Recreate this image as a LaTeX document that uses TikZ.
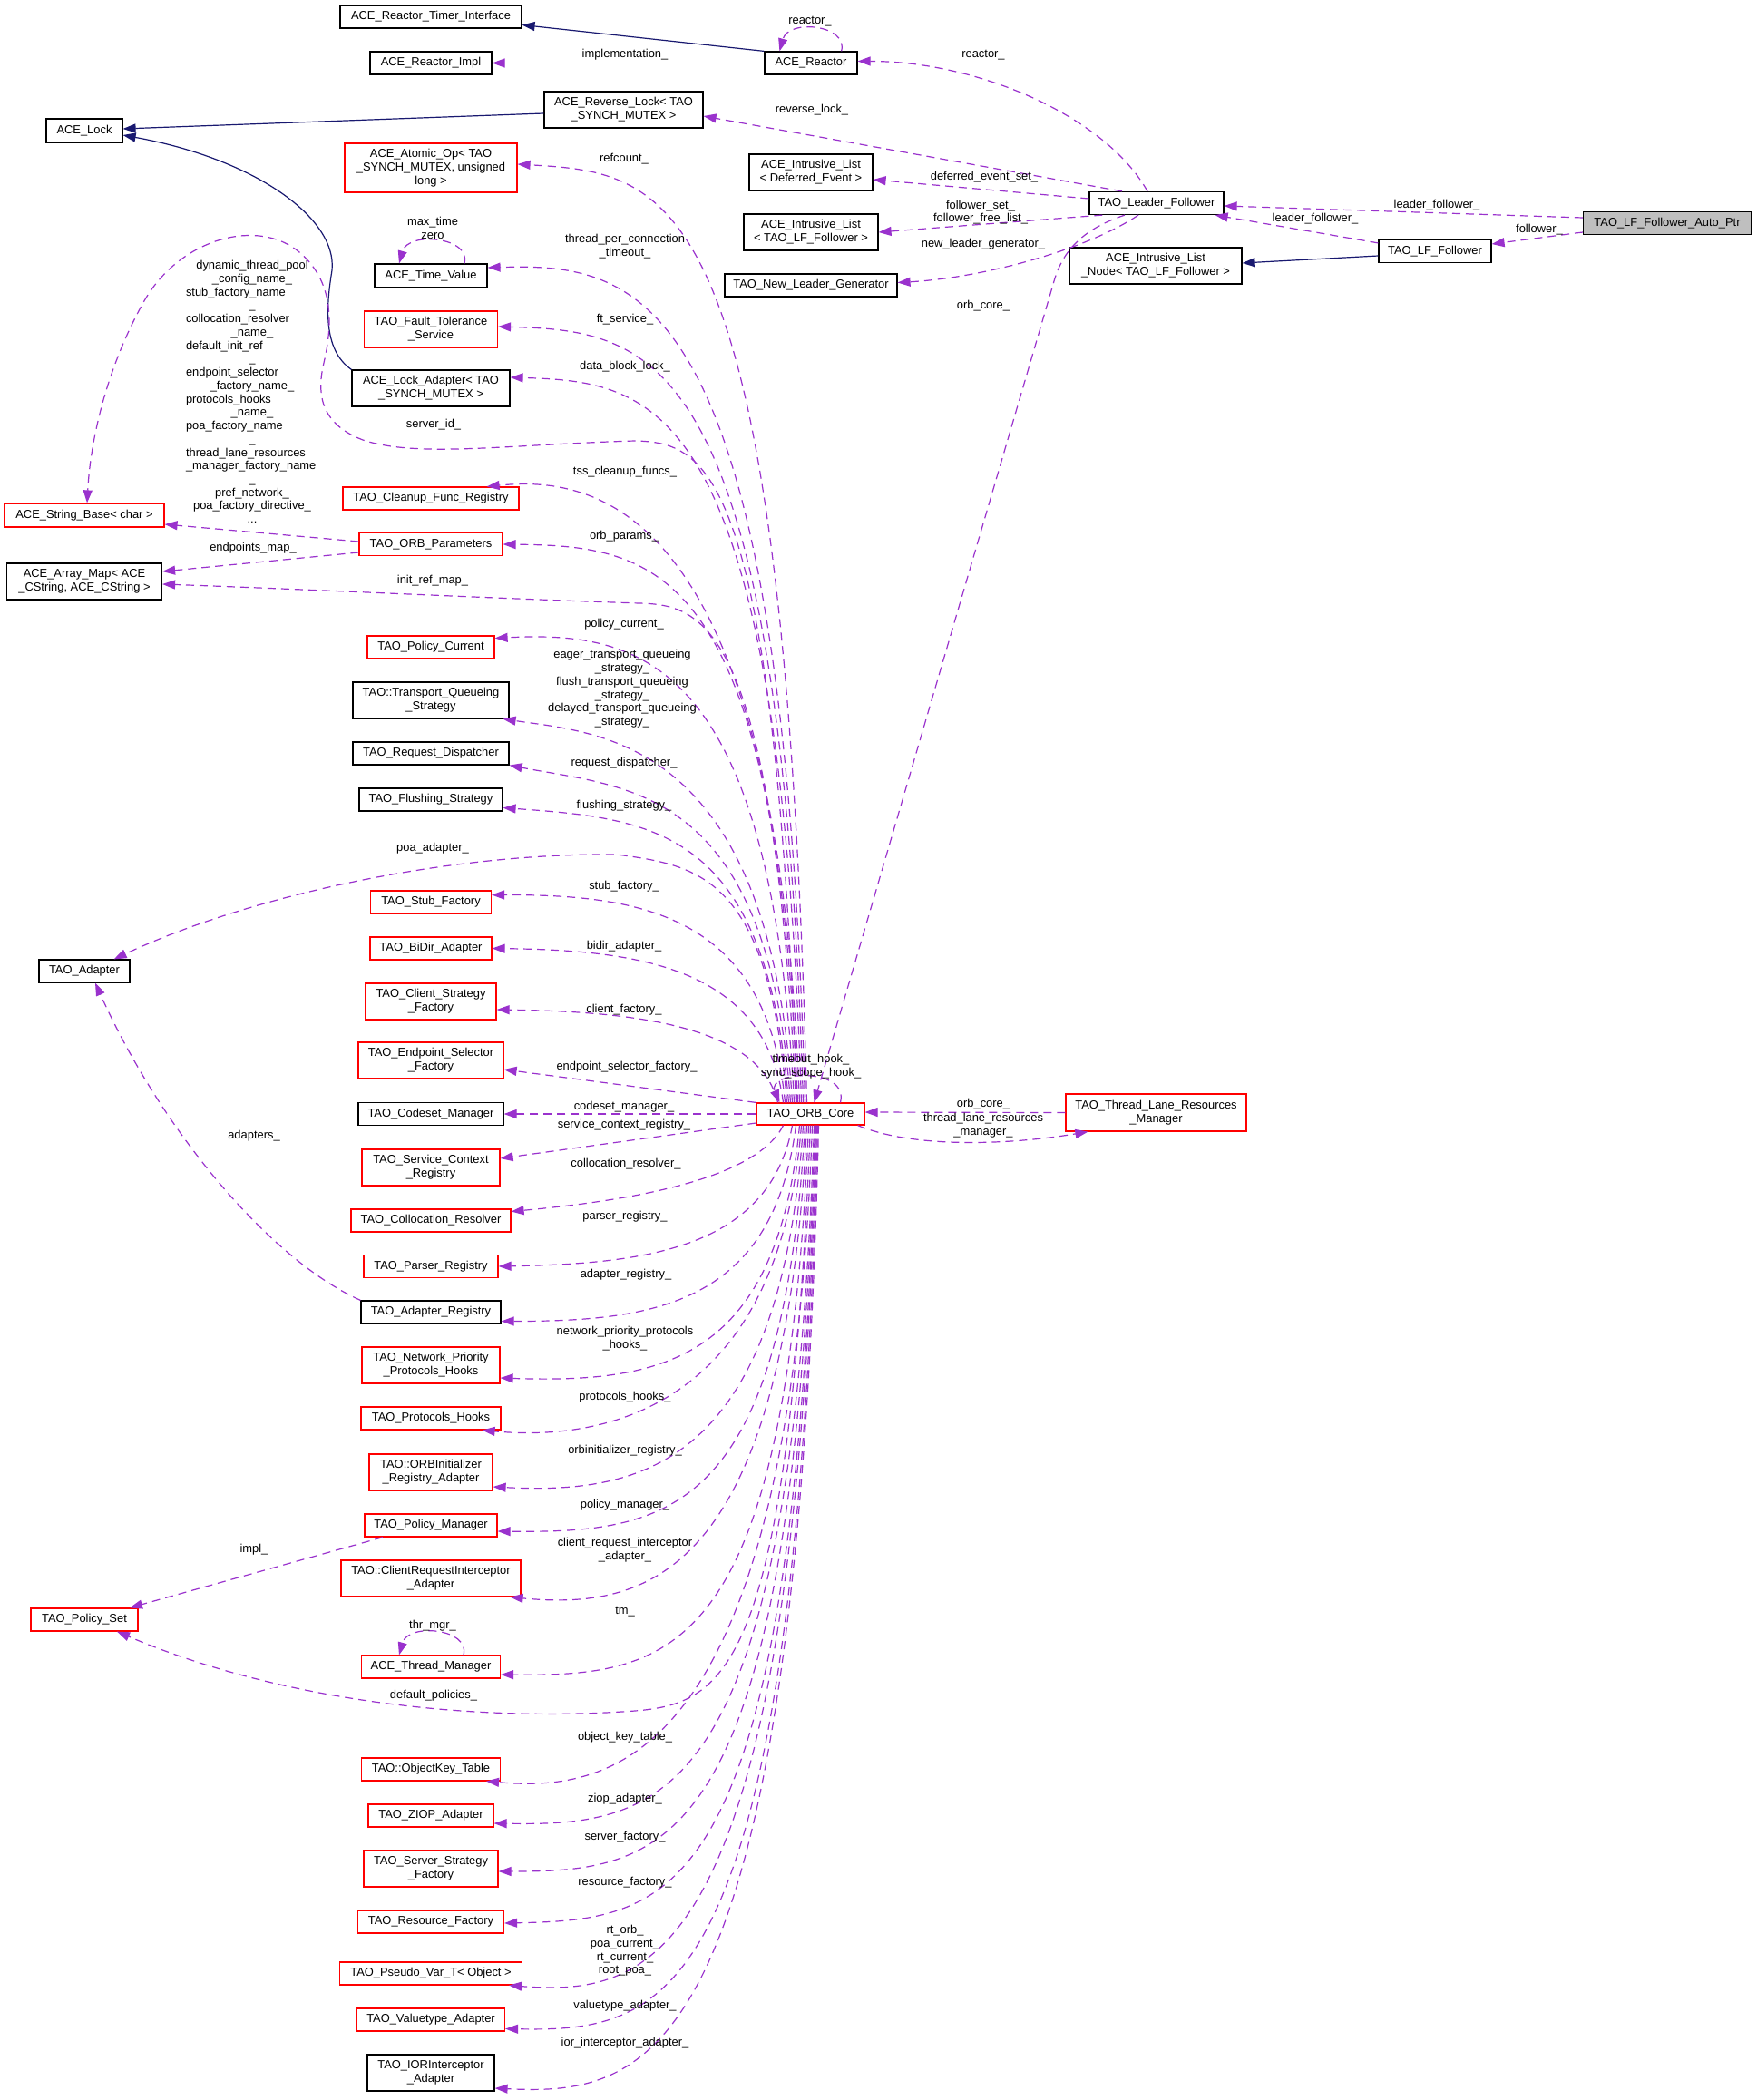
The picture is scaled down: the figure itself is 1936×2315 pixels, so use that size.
\documentclass[tikz,border=0pt]{standalone}
\usepackage{fontspec}
\setmainfont{Liberation Sans}
\usetikzlibrary{arrows.meta}
\definecolor{edgep}{HTML}{9A32CD}
\definecolor{inh}{HTML}{191970}
\definecolor{boxred}{HTML}{FF0000}
\definecolor{boxgray}{HTML}{BFBFBF}
\newcommand\fs{\fontsize{12.9}{15}\selectfont}
\newcommand\fsl{\fontsize{12.9}{14.74}\selectfont}
\begin{document}
\begin{tikzpicture}[x=1pt,y=-1pt,
  every node/.style={font=\fs},
  cls/.style={draw=black,line width=1.2pt,fill=white,inner sep=0pt,align=center},
  rcls/.style={cls,draw=boxred},
  sz/.style 2 args={minimum width=#1pt,minimum height=#2pt},
  lbl/.style={inner sep=0pt,align=center,font=\fsl},
  usedge/.style={draw=edgep,line width=1.2pt,dash pattern=on 9pt off 6pt,-{Triangle[length=14pt,width=10pt]}},
  inhedge/.style={draw=inh,line width=1.2pt,-{Triangle[length=14pt,width=10pt]}}]
\fill[white] (0,0) rectangle (1936,2315);
\useasboundingbox (0,0) rectangle (1936,2315);

% ---------- nodes ----------
\node[cls,sz={200}{25}] (timer) at (475,18.5) {ACE\_Reactor\_Timer\_Interface};
\node[cls,sz={134}{25}] (impl) at (475,69.5) {ACE\_Reactor\_Impl};
\node[cls,sz={102}{25}] (reactor) at (894,69.5) {ACE\_Reactor};
\node[cls,sz={84}{26}] (acelock) at (93,144) {ACE\_Lock};
\node[cls,sz={175}{40}] (revlock) at (687.5,121) {ACE\_Reverse\_Lock< TAO\\\_SYNCH\_MUTEX >};
\node[rcls,sz={190}{54}] (atomic) at (475,185) {ACE\_Atomic\_Op< TAO\\\_SYNCH\_MUTEX, unsigned\\long >};
\node[cls,sz={136}{40}] (ild) at (894,190) {ACE\_Intrusive\_List\\< Deferred\_Event >};
\node[cls,sz={148}{40}] (ilf) at (894,256) {ACE\_Intrusive\_List\\< TAO\_LF\_Follower >};
\node[cls,sz={190}{25}] (nlg) at (894,314.5) {TAO\_New\_Leader\_Generator};
\node[cls,sz={148}{25}] (lf) at (1275,224) {TAO\_Leader\_Follower};
\node[cls,sz={190}{40}] (iln) at (1274,293) {ACE\_Intrusive\_List\\\_Node< TAO\_LF\_Follower >};
\node[cls,sz={124}{25}] (lff) at (1582,277) {TAO\_LF\_Follower};
\node[cls,fill=boxgray,sz={185}{25}] (ap) at (1838,246) {TAO\_LF\_Follower\_Auto\_Ptr};
\node[cls,sz={124}{26}] (tv) at (475,304) {ACE\_Time\_Value};
\node[rcls,sz={147}{40}] (ft) at (475,363) {TAO\_Fault\_Tolerance\\\_Service};
\node[cls,sz={174}{40}] (lockad) at (475,428) {ACE\_Lock\_Adapter< TAO\\\_SYNCH\_MUTEX >};
\node[rcls,sz={194}{25}] (cleanup) at (475,549.5) {TAO\_Cleanup\_Func\_Registry};
\node[rcls,sz={176}{26}] (sb) at (93,568) {ACE\_String\_Base< char >};
\node[rcls,sz={158}{25}] (orbp) at (475,600) {TAO\_ORB\_Parameters};
\node[cls,sz={171}{40}] (amap) at (93,641) {ACE\_Array\_Map< ACE\\\_CString, ACE\_CString >};
\node[rcls,sz={140}{25}] (pc) at (475,713.5) {TAO\_Policy\_Current};
\node[cls,sz={172}{40}] (tq) at (475,772) {TAO::Transport\_Queueing\\\_Strategy};
\node[cls,sz={172}{25}] (rd) at (475,830.5) {TAO\_Request\_Dispatcher};
\node[cls,sz={158}{25}] (fs) at (475,881.5) {TAO\_Flushing\_Strategy};
\node[cls,sz={100}{25}] (adapter) at (93,1070.5) {TAO\_Adapter};
\node[rcls,sz={133}{25}] (stub) at (475,994.5) {TAO\_Stub\_Factory};
\node[rcls,sz={134}{25}] (bidir) at (475,1045.5) {TAO\_BiDir\_Adapter};
\node[rcls,sz={144}{40}] (csf) at (475,1104) {TAO\_Client\_Strategy\\\_Factory};
\node[rcls,sz={160}{40}] (esf) at (475,1169) {TAO\_Endpoint\_Selector\\\_Factory};
\node[cls,sz={160}{25}] (codeset) at (475,1228) {TAO\_Codeset\_Manager};
\node[rcls,sz={119}{24}] (core) at (893.5,1228) {TAO\_ORB\_Core};
\node[rcls,sz={199}{41}] (tlrm) at (1274.5,1226.5) {TAO\_Thread\_Lane\_Resources\\\_Manager};
\node[rcls,sz={152}{40}] (scr) at (475,1287) {TAO\_Service\_Context\\\_Registry};
\node[rcls,sz={176}{25}] (coll) at (475,1345.5) {TAO\_Collocation\_Resolver};
\node[rcls,sz={148}{25}] (parser) at (475,1396) {TAO\_Parser\_Registry};
\node[cls,sz={154}{25}] (areg) at (475,1446.5) {TAO\_Adapter\_Registry};
\node[rcls,sz={152}{40}] (npph) at (475,1505) {TAO\_Network\_Priority\\\_Protocols\_Hooks};
\node[rcls,sz={154}{25}] (ph) at (475,1563.5) {TAO\_Protocols\_Hooks};
\node[rcls,sz={136}{40}] (orbi) at (475,1623) {TAO::ORBInitializer\\\_Registry\_Adapter};
\node[rcls,sz={146}{25}] (pm) at (475,1681.5) {TAO\_Policy\_Manager};
\node[rcls,sz={198}{40}] (cria) at (475,1740) {TAO::ClientRequestInterceptor\\\_Adapter};
\node[rcls,sz={118}{25}] (ps) at (93,1785.5) {TAO\_Policy\_Set};
\node[rcls,sz={153}{25}] (tm) at (475,1837.5) {ACE\_Thread\_Manager};
\node[rcls,sz={153}{25}] (okt) at (475,1950.5) {TAO::ObjectKey\_Table};
\node[rcls,sz={138}{25}] (ziop) at (475,2001.5) {TAO\_ZIOP\_Adapter};
\node[rcls,sz={148}{40}] (ssf) at (475,2060) {TAO\_Server\_Strategy\\\_Factory};
\node[rcls,sz={161}{25}] (rf) at (475,2118.5) {TAO\_Resource\_Factory};
\node[rcls,sz={201}{25}] (pv) at (475,2175.5) {TAO\_Pseudo\_Var\_T< Object >};
\node[rcls,sz={163}{25}] (vt) at (475,2226.5) {TAO\_Valuetype\_Adapter};
\node[cls,sz={140}{40}] (ior) at (475,2285) {TAO\_IORInterceptor\\\_Adapter};

% ---------- inheritance ----------
\draw[inhedge] (reactor.north west) -- ([yshift=-9pt]timer.east);
\draw[inhedge] ([yshift=-4pt]revlock.west) -- ([yshift=2pt]acelock.east);
\draw[inhedge] (lockad.north west) .. controls (355,385) and (360,335) .. (366,298) .. controls (372,240) and (280,175) .. ([yshift=-5pt]acelock.east);
\draw[inhedge] ([yshift=-5pt]lff.west) -- ([yshift=3pt]iln.east);

% ---------- top right area ----------
\draw[usedge] (reactor.west) -- (impl.east);
\draw[usedge] ([xshift=-18pt]reactor.north east) .. controls +(8,-29) and +(10,-36) .. ([xshift=17pt]reactor.north west);
\draw[usedge] ([xshift=-10pt]lf.north) .. controls +(-45,-81) and +(135,0) .. ([yshift=2pt]reactor.east);
\draw[usedge] ([xshift=-38pt]lf.north) -- ([yshift=-7pt]revlock.east);
\draw[usedge] ([yshift=5pt]lf.west) -- ([yshift=-8pt]ild.east);
\draw[usedge] ([xshift=15pt]lf.south west) -- (ilf.east);
\draw[usedge] ([xshift=-20pt]lf.south) .. controls +(-60,40) and +(90,-5) .. ([yshift=3pt]nlg.east);
\draw[usedge] ([xshift=-35pt]lf.south) .. controls +(-45,15) and +(10,-35) .. (1162,310) -- ([xshift=4pt]core.north);
\draw[usedge] ([yshift=6pt]ap.west) -- ([yshift=-3pt]lf.east);
\draw[usedge] ([yshift=-10pt]ap.west) -- ([yshift=8pt]lff.east);
\draw[usedge] ([yshift=-4pt]lff.north west) -- ([xshift=-10pt]lf.south east);

% ---------- thread lane ----------
\draw[usedge] (tlrm.west) -- ([yshift=2pt]core.east);
\draw[usedge] ([xshift=-8pt]core.south east) .. controls +(60,25) and +(-90,15) .. ([xshift=25pt]tlrm.south west);

% ---------- self loops ----------
\draw[usedge] ([xshift=37pt]tv.north) .. controls +(8,-29) and +(10,-36) .. ([xshift=-35pt]tv.north);
\draw[usedge] ([xshift=36pt]tm.north) .. controls +(8,-29) and +(10,-36) .. ([xshift=-35pt]tm.north);
\draw[usedge] ([xshift=33pt]core.north) .. controls +(10,-40) and +(-15,-35) .. ([xshift=-34pt]core.north);

% ---------- ORB_Parameters ----------
\draw[usedge] ([yshift=3pt]orbp.west) -- ([yshift=-10pt]sb.east);
\draw[usedge] ([yshift=-9pt]orbp.west) -- ([yshift=11pt]amap.east);

% ---------- core upward edges ----------
\draw[usedge] ([xshift=-4pt]core.north) .. controls +(-25,-1015) and +(170,10) .. ([yshift=4pt]atomic.east);
\draw[usedge] ([xshift=-6pt]core.north) .. controls +(-25,-900) and +(170,-5) .. ([yshift=9pt]tv.east);
\draw[usedge] ([xshift=-8pt]core.north) .. controls +(-25,-835) and +(170,5) .. ([yshift=3pt]ft.east);
\draw[usedge] ([xshift=-10pt]core.north) .. controls +(-25,-780) and +(160,5) .. ([yshift=12pt]lockad.east);
\draw[usedge] ([xshift=-12pt]core.north) .. controls +(-25,-660) and +(120,-12) .. ([xshift=-36pt]cleanup.north east);
\draw[usedge] ([xshift=-14pt]core.north) .. controls +(-25,-595) and +(170,2) .. (orbp.east);
\draw[usedge] ([xshift=-15pt]core.north) .. controls +(-25,-700) and +(80,2) .. (700,486)
   .. controls (560,490) and (460,505) .. (400,485)
   .. controls (350,466) and (350,430) .. (357,400)
   .. controls (370,345) and (362,305) .. (330,278)
   .. controls (285,240) and (200,262) .. (160,330)
   .. controls (120,400) and (100,480) .. ([xshift=3pt]sb.north);
\draw[usedge] ([xshift=-16pt]core.north) .. controls +(-25,-530) and +(70,2) .. (705,665) .. controls (550,660) and (350,650) .. ([yshift=-3pt]amap.east);
\draw[usedge] ([xshift=-18pt]core.north) .. controls +(-25,-490) and +(160,-8) .. ([yshift=10pt]pc.east);
\draw[usedge] ([xshift=-20pt]core.north) .. controls +(-25,-400) and +(110,16) .. ([xshift=-7pt]tq.south east);
\draw[usedge] ([xshift=-22pt]core.north) .. controls +(-25,-350) and +(130,25) .. (rd.south east);
\draw[usedge] ([xshift=-24pt]core.north) .. controls +(-25,-300) and +(170,12) .. ([yshift=-9pt]fs.east);
\draw[usedge] ([xshift=-26pt]core.north) .. controls +(-20,-250) and +(90,12) .. (680,942) .. controls (500,940) and (280,985) .. ([xshift=-18pt]adapter.north east);
\draw[usedge] ([xshift=-28pt]core.north) .. controls +(-20,-210) and +(160,0) .. ([yshift=8pt]stub.east);
\draw[usedge] ([xshift=-30pt]core.north) .. controls +(-20,-150) and +(160,2) .. (bidir.east);
\draw[usedge] ([xshift=-36pt]core.north) .. controls +(-20,-85) and +(150,2) .. ([yshift=-9pt]csf.east);
\draw[usedge] (core.north west) -- ([yshift=-10pt]esf.east);
\draw[usedge] (core.west) -- (codeset.east);
\draw[usedge] ([yshift=-10pt]core.west) -- ([yshift=10pt]scr.east);

% ---------- core downward edges ----------
\draw[usedge] ([xshift=-30pt]core.south) .. controls +(-30,60) and +(130,-12) .. ([yshift=10pt]coll.east);
\draw[usedge] ([xshift=-20pt]core.south) .. controls +(-25,137) and +(160,-3) .. (parser.east);
\draw[usedge] ([xshift=-16pt]core.south) .. controls +(-25,197) and +(170,0) .. ([yshift=-10pt]areg.east);
\draw[usedge] ([xshift=-12pt]core.south) .. controls +(-25,259) and +(180,6) .. ([yshift=-14pt]npph.east);
\draw[usedge] ([xshift=-10pt]core.south) .. controls +(-25,316) and +(130,12) .. ([xshift=-21pt]ph.south east);
\draw[usedge] ([xshift=-8pt]core.south) .. controls +(-25,379) and +(160,8) .. ([yshift=-16pt]orbi.east);
\draw[usedge] ([xshift=-6pt]core.south) .. controls +(-25,428) and +(190,2) .. ([yshift=-6.5pt]pm.east);
\draw[usedge] ([xshift=-4pt]core.south) .. controls +(-25,500) and +(150,14) .. ([xshift=-12pt]cria.south east);
\draw[usedge] ([xshift=-2pt]core.south) .. controls +(-25,586) and +(190,2) .. ([yshift=-8.5pt]tm.east);
\draw[usedge] (core.south) .. controls +(-25,600) and +(100,-8) .. (700,1886) .. controls (540,1898) and (320,1880) .. ([xshift=36pt]ps.south);
\draw[usedge] ([xshift=2pt]core.south) .. controls +(-25,703) and +(140,12) .. ([xshift=-16pt]okt.south east);
\draw[usedge] ([xshift=4pt]core.south) .. controls +(-25,750) and +(190,3) .. ([yshift=-8.5pt]ziop.east);
\draw[usedge] ([xshift=5pt]core.south) .. controls +(-25,803) and +(190,0) .. ([yshift=-3pt]ssf.east);
\draw[usedge] ([xshift=6pt]core.south) .. controls +(-25,860) and +(190,-4) .. ([yshift=-1.5pt]rf.east);
\draw[usedge] ([xshift=7pt]core.south) .. controls +(-25,928) and +(160,12) .. ([xshift=-15pt]pv.south east);
\draw[usedge] ([xshift=8pt]core.south) .. controls +(-25,977) and +(180,3) .. ([yshift=-10pt]vt.east);
\draw[usedge] ([xshift=9pt]core.south) .. controls +(-25,1042) and +(170,8) .. ([yshift=-17pt]ior.east);

% ---------- other left edges ----------
\draw[usedge] (areg.north west) .. controls (300,1390) and (180,1250) .. ([xshift=12pt]adapter.south);
\draw[usedge] ([xshift=-53pt]pm.south) -- ([xshift=50pt]ps.north);

% ---------- labels ----------
\node[lbl] (L1) at (689,60) {implementation\_};
\node[lbl] (L2) at (893,24) {reactor\_};
\node[lbl] (L3) at (1084,61) {reactor\_};
\node[lbl] (L4) at (895,121) {reverse\_lock\_};
\node[lbl] (L5) at (1085,195) {deferred\_event\_set\_};
\node[lbl] (L6) at (1081,234) {follower\_set\_\\follower\_free\_list\_};
\node[lbl] (L7) at (1084,269) {new\_leader\_generator\_};
\node[lbl] (L8) at (1084,337) {orb\_core\_};
\node[lbl] (L9) at (1584,226) {leader\_follower\_};
\node[lbl] (L10) at (1450,241) {leader\_follower\_};
\node[lbl] (L11) at (1697,253) {follower\_};
\node[lbl] (L12) at (688,175) {refcount\_};
\node[lbl] (L13) at (477,251.5) {max\_time\\zero};
\node[lbl] (L14) at (689,271.5) {thread\_per\_connection\\\_timeout\_};
\node[lbl] (L15) at (689,352) {ft\_service\_};
\node[lbl] (L16) at (689,404) {data\_block\_lock\_};
\node[lbl] (L17) at (478,468) {server\_id\_};
\node[lbl] (L18) at (689,520) {tss\_cleanup\_funcs\_};
\node[lbl] (L19) at (278,432) {\makebox[146pt][c]{dynamic\_thread\_pool}\\
\_config\_name\_\\
\makebox[146pt][l]{stub\_factory\_name}\\
\_\\
\makebox[146pt][l]{collocation\_resolver}\\
\_name\_\\
\makebox[146pt][l]{default\_init\_ref}\\
\_\\
\makebox[146pt][l]{endpoint\_selector}\\
\_factory\_name\_\\
\makebox[146pt][l]{protocols\_hooks}\\
\_name\_\\
\makebox[146pt][l]{poa\_factory\_name}\\
\_\\
\makebox[146pt][l]{thread\_lane\_resources}\\
\makebox[146pt][l]{\_manager\_factory\_name}\\
\_\\
pref\_network\_\\
poa\_factory\_directive\_\\
...};
\node[lbl] (L20) at (688,591) {orb\_params\_};
\node[lbl] (L21) at (279,604) {endpoints\_map\_};
\node[lbl] (L22) at (477,640) {init\_ref\_map\_};
\node[lbl] (L23) at (688,688) {policy\_current\_};
\node[lbl] (L24) at (686,759.5) {eager\_transport\_queueing\\\_strategy\_\\flush\_transport\_queueing\\\_strategy\_\\delayed\_transport\_queueing\\\_strategy\_};
\node[lbl] (L25) at (688,841) {request\_dispatcher\_};
\node[lbl] (L26) at (688,888) {flushing\_strategy\_};
\node[lbl] (L27) at (477,935) {poa\_adapter\_};
\node[lbl] (L28) at (688,977) {stub\_factory\_};
\node[lbl] (L29) at (688,1043) {bidir\_adapter\_};
\node[lbl] (L30) at (688,1113) {client\_factory\_};
\node[lbl] (L31) at (691,1176) {endpoint\_selector\_factory\_};
\node[lbl] (L32) at (894,1175.5) {timeout\_hook\_\\sync\_scope\_hook\_};
\node[lbl] (L33) at (688,1220) {codeset\_manager\_};
\node[lbl] (L34) at (688,1240) {service\_context\_registry\_};
\node[lbl] (L35) at (1084,1217) {orb\_core\_};
\node[lbl] (L36) at (1084,1240.5) {thread\_lane\_resources\\\_manager\_};
\node[lbl] (L37) at (690,1283) {collocation\_resolver\_};
\node[lbl] (L38) at (280,1252) {adapters\_};
\node[lbl] (L39) at (689,1341) {parser\_registry\_};
\node[lbl] (L40) at (690,1405) {adapter\_registry\_};
\node[lbl] (L41) at (689,1475.5) {network\_priority\_protocols\\\_hooks\_};
\node[lbl] (L42) at (689,1540) {protocols\_hooks\_};
\node[lbl] (L43) at (689,1599) {orbinitializer\_registry\_};
\node[lbl] (L44) at (689,1659) {policy\_manager\_};
\node[lbl] (L45) at (280,1708) {impl\_};
\node[lbl] (L46) at (689,1708.5) {client\_request\_interceptor\\\_adapter\_};
\node[lbl] (L47) at (689,1777) {tm\_};
\node[lbl] (L48) at (477,1792) {thr\_mgr\_};
\node[lbl] (L49) at (478,1869) {default\_policies\_};
\node[lbl] (L50) at (689,1915) {object\_key\_table\_};
\node[lbl] (L51) at (689,1983) {ziop\_adapter\_};
\node[lbl] (L52) at (689,2025) {server\_factory\_};
\node[lbl] (L53) at (689,2075) {resource\_factory\_};
\node[lbl] (L54) at (689,2150.5) {rt\_orb\_\\poa\_current\_\\rt\_current\_\\root\_poa\_};
\node[lbl] (L55) at (689,2211) {valuetype\_adapter\_};
\node[lbl] (L56) at (689,2252) {ior\_interceptor\_adapter\_};
\end{tikzpicture}
\end{document}
